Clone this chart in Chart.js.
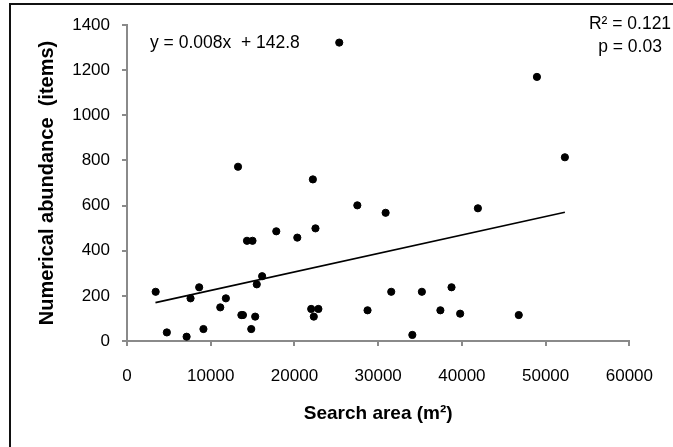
<!DOCTYPE html>
<html>
<head>
<meta charset="utf-8">
<script src="https://cdn.jsdelivr.net/npm/chart.js@4"></script>
<style>
  html, body { margin: 0; padding: 0; background: #fff; overflow: hidden; }
  #wrap { position: relative; width: 673px; height: 447px; }
  #frame { position: absolute; left: 9px; top: 3px; width: 700px; height: 500px; border: 2px solid #111; pointer-events: none; }
</style>
</head>
<body>
<div id="wrap">
  <canvas id="chart" width="673" height="447"></canvas>
  <div id="frame"></div>
</div>
<script>
// Søkeareal mot antall funn, med lineær trendlinje.

const areaX = [3424, 4760, 7120, 7590, 8620, 9130, 11140, 11810, 13660, 13850,
  14330, 14990, 14840, 15310, 15500, 16140, 17830, 20340, 22000, 22310,
  22510, 22860, 27510, 28730, 30890, 31560, 34080, 35220, 37430, 38760,
  39790, 41910, 46790, 13260, 22200, 25350, 48960, 52300];
const abundanceY = [218, 38, 19, 189, 238, 53, 149, 189, 115, 115,
  444, 444, 53, 108, 251, 287, 486, 458, 142, 108,
  499, 142, 601, 136, 568, 218, 27, 218, 136, 238,
  121, 588, 115, 772, 716, 1322, 1170, 814];

const trendX = [3400, 52300];
const trendY = [170, 570];

const xTicks = [0, 10000, 20000, 30000, 40000, 50000, 60000];
const yTicks = [0, 200, 400, 600, 800, 1000, 1200, 1400];

const FONT = "'Liberation Sans', Arial, sans-serif";
const AXIS_GREY = "#8a8a8a";

const toPoints = (xs, ys) => xs.map((x, i) => ({ x, y: ys[i] }));

const annotations = {
  id: "annotations",
  afterDraw(chart) {
    const c = chart.ctx;
    c.save();
    c.fillStyle = "#000";
    c.font = `17.5px ${FONT}`;
    c.textBaseline = "alphabetic";
    c.textAlign = "left";
    c.fillText("y = 0.008x  + 142.8", 150, 48);
    c.textAlign = "center";
    c.fillText("R² = 0.121", 630, 29);
    c.fillText("p = 0.03", 630, 52);
    c.restore();
  },
};

new Chart(document.getElementById("chart"), {
  type: "scatter",
  data: {
    datasets: [
      {
        label: "Funn",
        data: toPoints(areaX, abundanceY),
        backgroundColor: "#000",
        borderColor: "#000",
        pointRadius: 3.6,
        pointHoverRadius: 3.6,
      },
      {
        label: "Trend",
        data: toPoints(trendX, trendY),
        showLine: true,
        borderColor: "#000",
        borderWidth: 1.6,
        pointRadius: 0,
        fill: false,
      },
    ],
  },
  options: {
    responsive: false,
    animation: false,
    devicePixelRatio: 1,
    layout: { padding: { top: 25, right: 38, left: 0, bottom: 0 } },
    plugins: { legend: { display: false }, tooltip: { enabled: false } },
    scales: {
      x: {
        type: "linear",
        min: 0,
        max: 60000,
        afterBuildTicks: (s) => { s.ticks = xTicks.map((v) => ({ value: v })); },
        afterFit: (s) => { s.height = 106; },
        border: { color: AXIS_GREY, width: 2 },
        grid: { drawOnChartArea: false, drawTicks: true, tickLength: 5, color: AXIS_GREY, lineWidth: 2 },
        ticks: { color: "#000", font: { family: FONT, size: 17 }, padding: 20, maxRotation: 0, callback: (v) => String(v) },
        title: {
          display: true,
          text: "Search area (m²)",
          color: "#000",
          font: { family: FONT, size: 19, weight: "bold" },
          padding: { top: 0, bottom: 22 },
        },
      },
      y: {
        type: "linear",
        min: 0,
        max: 1400,
        afterBuildTicks: (s) => { s.ticks = yTicks.map((v) => ({ value: v })); },
        afterFit: (s) => { s.width = 127; },
        border: { color: AXIS_GREY, width: 2 },
        grid: { drawOnChartArea: false, drawTicks: true, tickLength: 5, color: AXIS_GREY, lineWidth: 2 },
        ticks: { color: "#000", font: { family: FONT, size: 17 }, padding: 12, callback: (v) => String(v) },
        title: {
          display: true,
          text: "Numerical abundance  (items)",
          color: "#000",
          font: { family: FONT, size: 20, weight: "bold" },
          padding: { top: 35, bottom: 0 },
        },
      },
    },
  },
  plugins: [annotations],
});
</script>
</body>
</html>
